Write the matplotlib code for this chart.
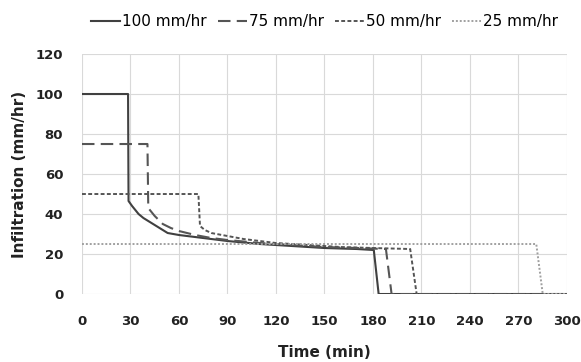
import matplotlib
matplotlib.use("Agg")
import matplotlib.pyplot as plt

# Infiltration curves
t_100 = [0, 28.5, 28.8, 31, 35, 38, 42, 47, 53, 60, 70, 80, 90, 110, 130, 150, 170, 180.5, 183.5, 300]
v_100 = [100, 100, 46.5, 44, 40, 38, 36, 33.5, 30.5, 29.5, 28.5, 27.5, 26.5, 25, 24, 23, 22.5, 22, 0, 0]

t_75 = [0, 40.5, 41, 45, 50, 55, 60, 70, 80, 90, 110, 130, 150, 170, 188, 191.5, 300]
v_75 = [75, 75, 43, 39, 35, 33, 31.5, 29.5, 28, 27, 25.5, 24.5, 23.5, 23, 22.5, 0, 0]

t_50 = [0, 72, 73, 76, 80, 90, 100, 120, 140, 160, 180, 203, 207, 300]
v_50 = [50, 50, 34, 32, 30.5, 29, 27.5, 25.5, 24.5, 23.5, 23, 22.5, 0, 0]

t_25 = [0, 281, 285, 300]
v_25 = [25, 25, 0, 0]

x_ticks = list(range(0, 301, 30))
y_ticks = list(range(0, 121, 20))

plt.rcParams["font.family"] = "DejaVu Sans"

fig = plt.figure(figsize=(5.81, 3.62), dpi=100)
ax = fig.add_axes([0.1411, 0.1878, 0.8348, 0.663])

ax.plot(t_100, v_100, color="#404040", lw=1.5, ls="-", label="100 mm/hr")
ax.plot(t_75, v_75, color="#555555", lw=1.5, ls=(0, (6, 3)), label="75 mm/hr")
ax.plot(t_50, v_50, color="#555555", lw=1.4, ls=(0, (2, 1.2)), label="50 mm/hr")
ax.plot(t_25, v_25, color="#a0a0a0", lw=1.4, ls=(0, (1, 1)), label="25 mm/hr")

ax.set_xlim(0, 300)
ax.set_ylim(0, 120)
ax.set_xticks(x_ticks)
ax.set_yticks(y_ticks)
ax.grid(True, color="#d9d9d9", lw=0.8)
for s in ax.spines.values():
    s.set_visible(False)
ax.tick_params(axis="x", length=0, pad=15, labelsize=9.5)
ax.tick_params(axis="y", length=0, pad=13.5, labelsize=9.5)
for lab in ax.get_xticklabels() + ax.get_yticklabels():
    lab.set_fontweight("bold")
    lab.set_color("#222222")

ax.set_xlabel("Time (min)", fontsize=11, fontweight="bold", color="#222222", va="center")
ax.set_ylabel("Infiltration (mm/hr)", fontsize=11, fontweight="bold", color="#222222", va="center")
ax.xaxis.set_label_coords(0.5, -0.242)
ax.yaxis.set_label_coords(-0.128, 0.5)

ax.legend(loc="center", bbox_to_anchor=(0.5, 1.134), ncol=4, frameon=False,
          fontsize=11, handlelength=1.9, handletextpad=0.15, columnspacing=0.7,
          borderaxespad=0, borderpad=0)

fig.savefig("out.png", dpi=100)
